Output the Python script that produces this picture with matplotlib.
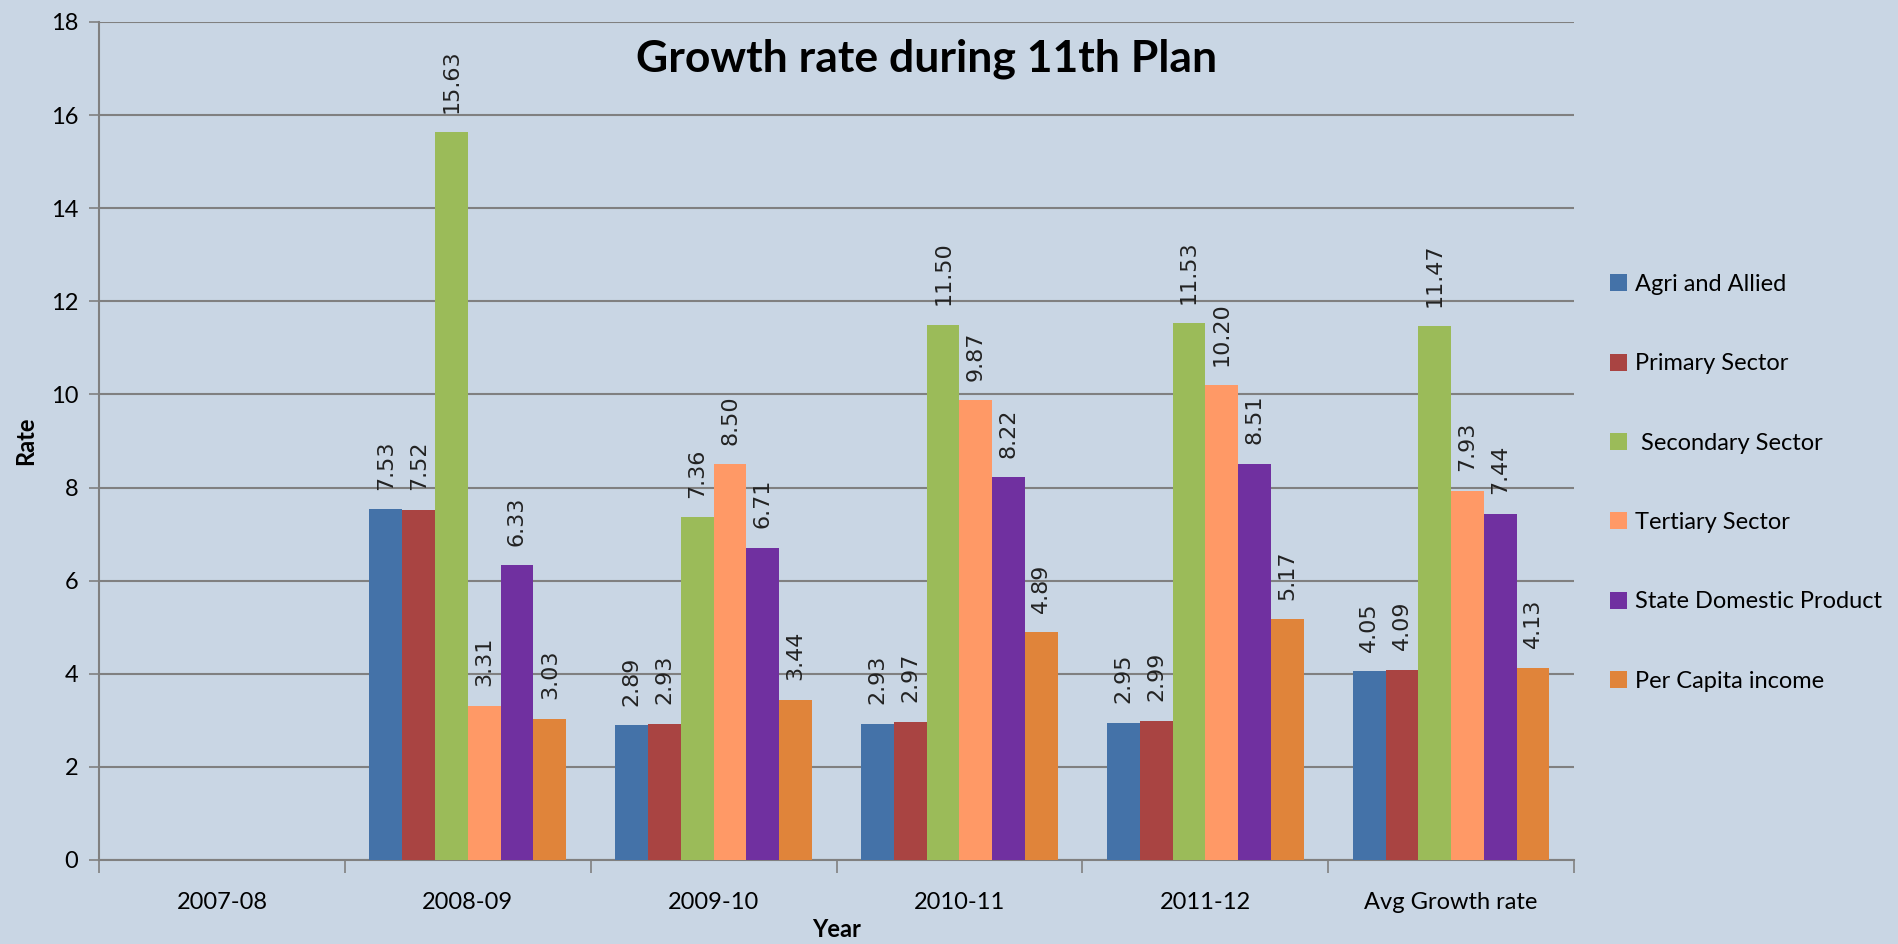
import numpy as np
import matplotlib
matplotlib.use("Agg")
import matplotlib.pyplot as plt

years = ["2007-08", "2008-09", "2009-10", "2010-11", "2011-12", "Avg Growth rate"]
series_names = ["Agri and Allied", "Primary Sector", " Secondary Sector",
                "Tertiary Sector", "State Domestic Product", "Per Capita income"]
agri = [np.nan, 7.53, 2.89, 2.93, 2.95, 4.05]
primary = [np.nan, 7.52, 2.93, 2.97, 2.99, 4.09]
secondary = [np.nan, 15.63, 7.36, 11.50, 11.53, 11.47]
tertiary = [np.nan, 3.31, 8.50, 9.87, 10.20, 7.93]
sdp = [np.nan, 6.33, 6.71, 8.22, 8.51, 7.44]
per_capita = [np.nan, 3.03, 3.44, 4.89, 5.17, 4.13]
colors = ["#4472A8", "#A94442", "#9BBB59", "#FF9966", "#7030A0", "#E0843A"]

bg = "#C9D6E4"
plt.rcParams['font.family'] = ['Lato', 'DejaVu Sans']

fig = plt.figure(figsize=(18.98, 9.44), dpi=100, facecolor=bg)
ax = fig.add_axes([0.0522, 0.089, 0.7771, 0.8877], facecolor=bg)

x = np.arange(len(years))
n = 6
w = 0.8 / n
all_series = [agri, primary, secondary, tertiary, sdp, per_capita]
for i, (vals, name, c) in enumerate(zip(all_series, series_names, colors)):
    pos = x - 0.4 + w * (i + 0.5)
    bars = ax.bar(pos, vals, width=w, color=c, label=name, zorder=3)
    for p, v in zip(pos, vals):
        if np.isnan(v):
            continue
        ax.annotate(f"{v:.2f}", (p, v), xytext=(0, 14), textcoords="offset points",
                    rotation=90, ha="center", va="bottom", fontsize=16,
                    family="DejaVu Sans", color="#222222")

ax.set_xlim(-0.5, len(years) - 0.5)
ax.set_ylim(0, 18)
ax.set_yticks(range(0, 19, 2))
ax.yaxis.grid(True, color="#808080", linewidth=1.5, zorder=0)
ax.set_xticks(x)
ax.set_xticklabels(years, fontsize=17)
ax.set_xticks(np.arange(-0.5, len(years), 1), minor=True)
ax.tick_params(axis="x", which="major", length=0, pad=23)
ax.tick_params(axis="x", which="minor", length=9, color="#808080", width=1.2)
ax.tick_params(axis="y", length=7, color="#808080", width=1.2, labelsize=17, pad=8)
for s in ["top", "right"]:
    ax.spines[s].set_visible(False)
for s in ["left", "bottom"]:
    ax.spines[s].set_color("#808080")
    ax.spines[s].set_linewidth(1.5)

ax.set_xlabel("Year", fontsize=17, fontweight="bold", labelpad=4)
ax.set_ylabel("Rate", fontsize=17, fontweight="bold", labelpad=10)

fig.text(0.488, 0.938, "Growth rate during 11th Plan", ha="center", va="center",
         fontsize=32, fontweight="bold")

leg = ax.legend(loc="center left", bbox_to_anchor=(1.01, 0.45), frameon=False,
                fontsize=17, handlelength=0.72, handleheight=0.72,
                handletextpad=0.35, labelspacing=2.47)

fig.savefig("out.png", dpi=100, facecolor=bg)
